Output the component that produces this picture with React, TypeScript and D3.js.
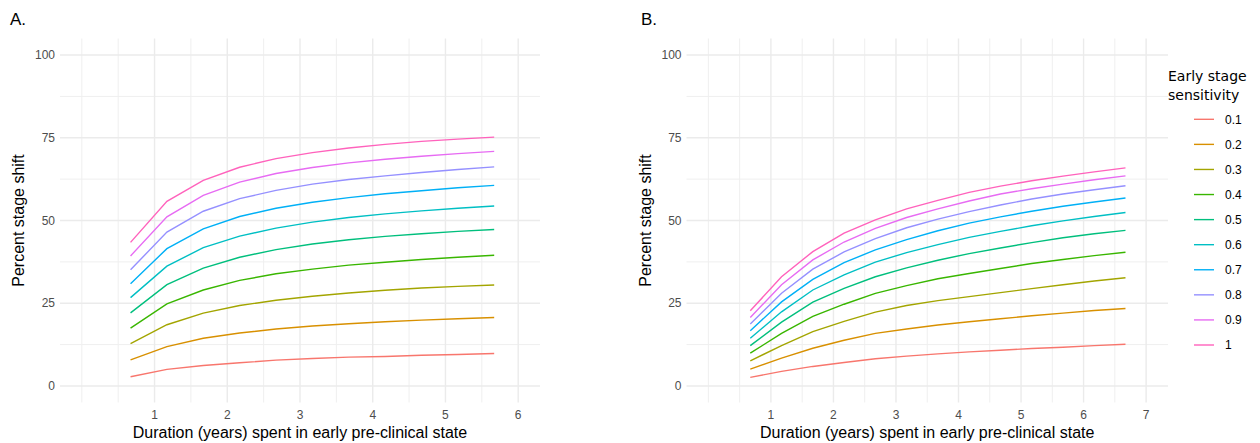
import React, { useEffect, useRef } from "react";
import * as d3 from "d3";

// sensitivity levels (legend)
const sensitivities = ["0.1", "0.2", "0.3", "0.4", "0.5", "0.6", "0.7", "0.8", "0.9", "1"];
const colors = ["#F8766D", "#D89000", "#A3A500", "#39B600", "#00BF7D", "#00BFC4", "#00B0F6", "#9590FF", "#E76BF3", "#FF62BC"];

// panel A durations and curves
const durationsA = [0.67, 1.17, 1.67, 2.17, 2.67, 3.17, 3.67, 4.17, 4.67, 5.17, 5.67];
const shiftA = [
  [2.8, 5.0, 6.2, 7.0, 7.8, 8.3, 8.7, 8.9, 9.3, 9.5, 9.8],
  [7.9, 11.9, 14.4, 16.0, 17.2, 18.1, 18.8, 19.4, 19.9, 20.3, 20.7],
  [12.8, 18.5, 22.0, 24.3, 25.9, 27.1, 28.1, 28.9, 29.6, 30.1, 30.5],
  [17.5, 24.8, 29.0, 31.9, 33.9, 35.3, 36.5, 37.4, 38.2, 38.9, 39.5],
  [22.1, 30.6, 35.6, 38.9, 41.2, 42.9, 44.2, 45.2, 46.0, 46.7, 47.3],
  [26.7, 36.2, 41.8, 45.3, 47.7, 49.5, 50.9, 52.0, 52.9, 53.7, 54.4],
  [30.9, 41.5, 47.5, 51.2, 53.7, 55.5, 56.9, 58.1, 59.0, 59.9, 60.6],
  [35.1, 46.5, 52.8, 56.6, 59.1, 61.0, 62.4, 63.5, 64.5, 65.4, 66.2],
  [39.3, 51.1, 57.6, 61.6, 64.2, 66.0, 67.4, 68.5, 69.4, 70.2, 70.9],
  [43.4, 55.8, 62.1, 66.1, 68.7, 70.5, 71.9, 73.0, 73.9, 74.6, 75.2],
];

// panel B durations and curves
const durationsB = [0.67, 1.17, 1.67, 2.17, 2.67, 3.17, 3.67, 4.17, 4.67, 5.17, 5.67, 6.17, 6.67];
const shiftB = [
  [2.6, 4.4, 5.9, 7.1, 8.2, 9.0, 9.7, 10.3, 10.8, 11.3, 11.7, 12.2, 12.6],
  [5.1, 8.4, 11.4, 13.8, 15.9, 17.2, 18.4, 19.4, 20.3, 21.2, 22.0, 22.8, 23.4],
  [7.6, 12.2, 16.4, 19.5, 22.3, 24.3, 25.8, 27.0, 28.2, 29.4, 30.6, 31.7, 32.7],
  [9.9, 15.9, 21.0, 24.7, 28.0, 30.3, 32.4, 34.0, 35.5, 37.0, 38.2, 39.4, 40.4],
  [12.2, 19.3, 25.3, 29.5, 33.0, 35.7, 38.0, 40.0, 41.7, 43.3, 44.8, 46.0, 47.0],
  [14.4, 22.4, 29.0, 33.6, 37.4, 40.3, 42.7, 44.9, 46.7, 48.4, 49.9, 51.2, 52.4],
  [16.7, 25.4, 32.2, 37.3, 41.1, 44.2, 46.9, 49.2, 51.1, 52.8, 54.3, 55.6, 56.8],
  [18.7, 28.0, 35.3, 40.5, 44.5, 47.8, 50.4, 52.7, 54.7, 56.5, 58.0, 59.3, 60.5],
  [20.7, 30.6, 38.1, 43.5, 47.6, 50.9, 53.5, 55.9, 58.0, 59.6, 61.0, 62.3, 63.5],
  [22.7, 33.0, 40.6, 46.2, 50.2, 53.5, 56.1, 58.5, 60.4, 62.0, 63.4, 64.7, 65.9],
];

const yTicks = [0, 25, 50, 75, 100];
const xTicksA = [1, 2, 3, 4, 5, 6];
const xTicksB = [1, 2, 3, 4, 5, 6, 7];

const FONT = "'Liberation Sans', Arial, sans-serif";

function drawPanel(svg, opts) {
  const { left, right, top, bottom, xMax, durations, shifts, xTicks, tag, tagX } = opts;
  const x = d3.scaleLinear().domain([-0.05 * xMax, xMax * 1.05]).range([left, right]);
  const y = d3.scaleLinear().domain([-5, 105]).range([bottom, top]);
  const g = svg.append("g");

  // minor grid
  const xMinor = d3.range(0, xMax + 0.01, 0.5).filter((v) => !xTicks.includes(v));
  const yMinor = [12.5, 37.5, 62.5, 87.5];
  g.selectAll(".xminor").data(xMinor).join("line")
    .attr("x1", (d) => x(d)).attr("x2", (d) => x(d))
    .attr("y1", top).attr("y2", bottom)
    .attr("stroke", "#EFEFEF").attr("stroke-width", 1);
  g.selectAll(".yminor").data(yMinor).join("line")
    .attr("x1", left).attr("x2", right)
    .attr("y1", (d) => y(d)).attr("y2", (d) => y(d))
    .attr("stroke", "#EFEFEF").attr("stroke-width", 1);

  // major grid
  g.append("g").selectAll("line").data(xTicks).join("line")
    .attr("x1", (d) => x(d)).attr("x2", (d) => x(d))
    .attr("y1", top).attr("y2", bottom)
    .attr("stroke", "#EBEBEB").attr("stroke-width", 1.4);
  g.append("g").selectAll("line").data(yTicks).join("line")
    .attr("x1", left).attr("x2", right)
    .attr("y1", (d) => y(d)).attr("y2", (d) => y(d))
    .attr("stroke", "#EBEBEB").attr("stroke-width", 1.4);

  // tick labels
  g.append("g").selectAll("text").data(yTicks).join("text")
    .attr("x", left - 5).attr("y", (d) => y(d)).attr("dy", "0.35em")
    .attr("text-anchor", "end").attr("font-size", 12).attr("fill", "#4D4D4D")
    .attr("font-family", FONT).text((d) => d);
  g.append("g").selectAll("text").data(xTicks).join("text")
    .attr("x", (d) => x(d)).attr("y", bottom + 16)
    .attr("text-anchor", "middle").attr("font-size", 12).attr("fill", "#4D4D4D")
    .attr("font-family", FONT).text((d) => d);

  // lines
  const line = d3.line().x((d) => x(d[0])).y((d) => y(d[1]));
  g.append("g").selectAll("path").data(shifts).join("path")
    .attr("d", (s) => line(durations.map((dd, i) => [dd, s[i]])))
    .attr("fill", "none")
    .attr("stroke", (_, i) => colors[i])
    .attr("stroke-width", 1.4);

  // axis titles
  g.append("text")
    .attr("x", (left + right) / 2).attr("y", bottom + 35)
    .attr("text-anchor", "middle").attr("font-size", 16).attr("fill", "#000")
    .attr("font-family", FONT)
    .text("Duration (years) spent in early pre-clinical state");
  g.append("text")
    .attr("transform", `translate(${left - 36}, ${(top + bottom) / 2}) rotate(-90)`)
    .attr("text-anchor", "middle").attr("font-size", 16).attr("fill", "#000")
    .attr("font-family", FONT)
    .text("Percent stage shift");

  g.append("text")
    .attr("x", tagX).attr("y", 25)
    .attr("font-size", 17).attr("fill", "#000").attr("font-family", FONT)
    .text(tag);
}

function App() {
  const svgRef = useRef(null);

  useEffect(() => {
    const svg = d3.select(svgRef.current);
    svg.selectAll("*").remove();

    drawPanel(svg, {
      left: 60, right: 540, top: 38.5, bottom: 402.5, xMax: 6,
      durations: durationsA, shifts: shiftA, xTicks: xTicksA, tag: "A.", tagX: 10,
    });
    drawPanel(svg, {
      left: 686.5, right: 1168, top: 38.5, bottom: 402.5, xMax: 7,
      durations: durationsB, shifts: shiftB, xTicks: xTicksB, tag: "B.", tagX: 641,
    });

    // legend
    const legend = svg.append("g").attr("transform", "translate(1168, 0)");
    legend.append("text")
      .attr("x", 0).attr("y", 81)
      .attr("font-size", 14).attr("font-family", "'DejaVu Sans', sans-serif")
      .text("Early stage");
    legend.append("text")
      .attr("x", 0).attr("y", 100)
      .attr("font-size", 14).attr("font-family", "'DejaVu Sans', sans-serif")
      .text("sensitivity");
    const ly = d3.scalePoint().domain(sensitivities).range([119.3, 345]);
    const items = legend.selectAll(".item").data(sensitivities).join("g")
      .attr("transform", (d) => `translate(0, ${ly(d)})`);
    items.append("line")
      .attr("x1", 26).attr("x2", 46).attr("y1", 0).attr("y2", 0)
      .attr("stroke", (_, i) => colors[i]).attr("stroke-width", 1.4);
    items.append("text")
      .attr("x", 57).attr("y", 0).attr("dy", "0.35em")
      .attr("font-size", 12).attr("fill", "#000").attr("font-family", FONT)
      .text((d) => d);
  }, []);

  return (
    <svg ref={svgRef} width={1260} height={443}
      style={{ position: "absolute", left: 0, top: 0, background: "#fff" }} />
  );
}

export default App;
